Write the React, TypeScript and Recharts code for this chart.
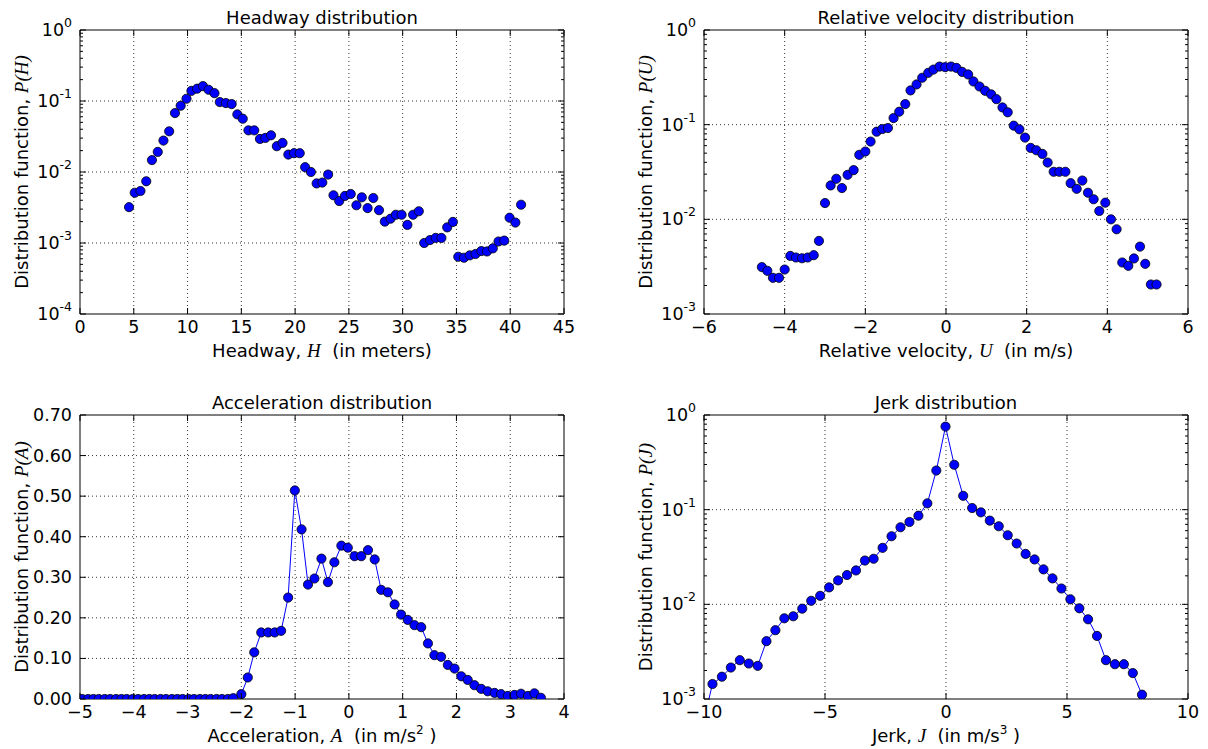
import React from 'react';
import { ScatterChart, Scatter, LineChart, Line, XAxis, YAxis, ReferenceLine, ReferenceArea } from 'recharts';

// ---------- data ----------
const headwayH = [4.56,5.09,5.62,6.16,6.69,7.23,7.76,8.29,8.83,9.36,9.9,10.36,10.89,11.43,11.96,12.5,13.0,13.56,14.1,14.63,15.13,15.66,16.2,16.73,17.23,17.76,18.3,18.83,19.37,19.9,20.43,20.93,21.47,22.0,22.53,23.07,23.57,24.1,24.63,25.17,25.7,26.2,26.74,27.27,27.8,28.34,28.87,29.37,29.9,30.44,30.97,31.5,32.0,32.54,33.07,33.6,34.14,34.67,35.17,35.7,36.24,36.77,37.31,37.84,38.38,38.91,39.44,39.94,40.48,41.01];
const headwayP = [0.0032,0.0051,0.0054,0.0074,0.0147,0.0192,0.0277,0.0374,0.0676,0.0857,0.1076,0.139,0.149,0.162,0.144,0.129,0.0966,0.0935,0.0905,0.0648,0.0563,0.0386,0.0386,0.0292,0.0302,0.0329,0.0231,0.0257,0.0176,0.0184,0.0184,0.0117,0.0100,0.0069,0.0071,0.0092,0.0047,0.0039,0.0046,0.0049,0.0034,0.0044,0.0031,0.0043,0.0029,0.0020,0.0022,0.0025,0.0025,0.0018,0.0025,0.0028,0.0010,0.0011,0.00118,0.00118,0.00166,0.00198,0.00064,0.00062,0.00067,0.00070,0.00077,0.00076,0.00084,0.00105,0.00108,0.00227,0.00194,0.00346];

const velocityU = [-4.565,-4.43,-4.29,-4.14,-4.0,-3.86,-3.72,-3.57,-3.43,-3.28,-3.15,-3.0,-2.86,-2.72,-2.58,-2.44,-2.29,-2.15,-2.0,-1.87,-1.72,-1.58,-1.44,-1.30,-1.16,-1.01,-0.88,-0.73,-0.59,-0.44,-0.31,-0.16,-0.02,0.125,0.26,0.40,0.55,0.68,0.83,0.97,1.12,1.25,1.40,1.53,1.68,1.82,1.96,2.10,2.24,2.39,2.52,2.67,2.81,2.96,3.09,3.24,3.38,3.52,3.66,3.80,3.95,4.09,4.23,4.37,4.52,4.66,4.81,4.94,5.08,5.22];
const velocityP = [0.00313,0.00286,0.00241,0.00241,0.00295,0.00411,0.00395,0.00388,0.00395,0.00418,0.00592,0.01486,0.0228,0.0268,0.0214,0.0295,0.0331,0.0480,0.0520,0.0663,0.0843,0.0900,0.0922,0.1175,0.137,0.165,0.230,0.266,0.313,0.353,0.382,0.411,0.405,0.411,0.398,0.361,0.339,0.286,0.253,0.228,0.209,0.186,0.152,0.135,0.0976,0.0893,0.0730,0.0568,0.0537,0.0491,0.0398,0.0318,0.0318,0.0318,0.0241,0.0210,0.0257,0.0191,0.0163,0.01225,0.0150,0.0100,0.00785,0.0035,0.00323,0.00386,0.00515,0.00339,0.00205,0.00205];

const accelA = [-4.96,-4.85,-4.75,-4.65,-4.54,-4.44,-4.33,-4.23,-4.13,-4.02,-3.92,-3.81,-3.71,-3.61,-3.50,-3.40,-3.29,-3.19,-3.09,-2.98,-2.88,-2.77,-2.67,-2.57,-2.46,-2.36,-2.25,-2.15,-2.00,-1.88,-1.76,-1.63,-1.50,-1.38,-1.26,-1.13,-1.005,-0.88,-0.76,-0.64,-0.51,-0.39,-0.27,-0.14,-0.02,0.105,0.23,0.355,0.48,0.60,0.725,0.85,0.97,1.095,1.22,1.345,1.47,1.59,1.715,1.84,1.965,2.09,2.21,2.335,2.46,2.58,2.71,2.83,2.955,3.08,3.20,3.33,3.45,3.57];
const accelP = [0,0,0,0,0,0,0,0,0,0,0,0,0,0,0,0,0,0,0,0,0,0,0,0,0,0,0,0.002,0.012,0.053,0.115,0.164,0.164,0.164,0.168,0.250,0.514,0.418,0.282,0.297,0.346,0.288,0.337,0.378,0.373,0.352,0.352,0.367,0.344,0.269,0.263,0.233,0.208,0.195,0.182,0.177,0.137,0.108,0.104,0.084,0.075,0.056,0.047,0.034,0.025,0.019,0.015,0.012,0.0075,0.010,0.013,0.0075,0.014,0.003];

const jerkJ = [-10.03,-9.65,-9.26,-8.89,-8.52,-8.15,-7.78,-7.42,-7.05,-6.68,-6.31,-5.94,-5.57,-5.20,-4.83,-4.46,-4.09,-3.72,-3.35,-2.99,-2.62,-2.25,-1.88,-1.51,-1.14,-0.77,-0.40,-0.02,0.34,0.71,1.08,1.44,1.81,2.18,2.55,2.92,3.29,3.66,4.03,4.40,4.77,5.14,5.51,5.87,6.24,6.61,6.98,7.35,7.72,8.10];
const jerkP = [0.00056,0.00144,0.00172,0.00215,0.00257,0.00237,0.00224,0.00408,0.00533,0.00712,0.00748,0.00900,0.0109,0.0123,0.0151,0.0179,0.0204,0.0228,0.0290,0.0303,0.0395,0.0524,0.0652,0.0741,0.0864,0.1166,0.259,0.754,0.298,0.140,0.104,0.0937,0.0766,0.0668,0.0537,0.0439,0.0341,0.0298,0.0234,0.0188,0.0147,0.0113,0.00908,0.00695,0.00464,0.00257,0.00233,0.00233,0.00188,0.00111];

const headwayTicks = [0, 5, 10, 15, 20, 25, 30, 35, 40, 45];
const velocityTicks = [-6, -4, -2, 0, 2, 4, 6];
const accelTicks = [-5, -4, -3, -2, -1, 0, 1, 2, 3, 4];
const accelYTicks = [0, 0.1, 0.2, 0.3, 0.4, 0.5, 0.6, 0.7];
const jerkTicks = [-10, -5, 0, 5, 10];

const zip = (xs: number[], ys: number[]) => xs.map((x, i) => ({ x, y: ys[i] }));

// ---------- layout ----------
const PL = 80, PT = 30, PW = 484, PH = 284;
const CW = PL + PW + 20, CH = PT + PH + 60;
const FONT = 'DejaVu Sans';
const FS = 17.5;
const MATH = 'Liberation Serif';

const logTicks = (minExp: number, maxExp: number) => {
  const out: number[] = [];
  for (let e = minExp; e <= maxExp; e++) {
    const base = Math.pow(10, e);
    out.push(base);
    if (e < maxExp) for (let m = 2; m <= 9; m++) out.push(m * base);
  }
  return out;
};
const isDecade = (v: number) => Math.abs(Math.log10(v) - Math.round(Math.log10(v))) < 1e-9;

const fmtX = (v: number) => (v < 0 ? '\u2212' + Math.abs(v) : String(v));

const XTick = (props: any) => {
  const { x, payload } = props;
  return (
    <g>
      <line x1={x} x2={x} y1={PT + PH} y2={PT + PH - 6} stroke="#000" strokeWidth={1} />
      <line x1={x} x2={x} y1={PT} y2={PT + 6} stroke="#000" strokeWidth={1} />
      <text x={x} y={PT + PH + 19} textAnchor="middle" fontFamily={FONT} fontSize={FS} fill="#000">{fmtX(payload.value)}</text>
    </g>
  );
};

const LogYTick = (props: any) => {
  const { y, payload } = props;
  const v = payload.value;
  const major = isDecade(v);
  const len = major ? 6 : 3;
  const e = Math.round(Math.log10(v));
  return (
    <g>
      <line x1={PL} x2={PL + len} y1={y} y2={y} stroke="#000" strokeWidth={1} />
      <line x1={PL + PW - len} x2={PL + PW} y1={y} y2={y} stroke="#000" strokeWidth={1} />
      {major && (
        <text x={PL - 8} y={y + 6} textAnchor="end" fontFamily={FONT} fontSize={FS} fill="#000">
          10<tspan dy={-9} fontSize={12.5}>{String(e)}</tspan>
        </text>
      )}
    </g>
  );
};

const LinYTick = (props: any) => {
  const { y, payload } = props;
  return (
    <g>
      <line x1={PL} x2={PL + 6} y1={y} y2={y} stroke="#000" strokeWidth={1} />
      <line x1={PL + PW - 6} x2={PL + PW} y1={y} y2={y} stroke="#000" strokeWidth={1} />
      <text x={PL - 8} y={y + 6} textAnchor="end" fontFamily={FONT} fontSize={FS} fill="#000">{payload.value.toFixed(2)}</text>
    </g>
  );
};

const Dot = (props: any) => {
  const { cx, cy } = props;
  if (cx == null || cy == null) return <g />;
  return <circle cx={cx} cy={cy} r={4.6} fill="#0000ff" stroke="#000" strokeWidth={0.8} />;
};

type TextsProps = { title: string; xPre: string; xVar: string; xPost: React.ReactNode; yVar: string };

const xLabelContent = (t: TextsProps) => () => (
  <g>
    <text x={PL + PW / 2} y={18} dy={6} textAnchor="middle" fontFamily={FONT} fontSize={18} fill="#000">{t.title}</text>
    <text x={PL + PW / 2} y={PT + PH + 43} textAnchor="middle" fontFamily={FONT} fontSize={18} fill="#000">
      {t.xPre}<tspan fontFamily={MATH} fontStyle="italic" fontSize={19}>{t.xVar}</tspan>{t.xPost}
    </text>
  </g>
);

const yLabelContent = (t: TextsProps) => () => (
  <text x={21} y={PT + PH / 2} textAnchor="middle" dominantBaseline="central" transform={`rotate(-90 21 ${PT + PH / 2})`} fontFamily={FONT} fontSize={18} fill="#000">
    Distribution function, <tspan fontFamily={MATH} fontStyle="italic" fontSize={19}>{`P(${t.yVar})`}</tspan>
  </text>
);

const gridStyle = { stroke: '#000', strokeWidth: 0.8, strokeDasharray: '1 3' };

type PanelProps = {
  left: number; top: number; kind: 'scatter' | 'line';
  data: { x: number; y: number }[];
  xDomain: [number, number]; xTicks: number[];
  yDomain: [number, number]; yTicks: number[]; yGrid: number[]; log: boolean;
  texts: TextsProps;
};

const Panel = (p: PanelProps) => {
  const common = (
    <>
      <XAxis type="number" dataKey="x" domain={p.xDomain} ticks={p.xTicks} interval={0} allowDataOverflow height={60}
        axisLine={false} tickLine={false} tick={XTick} label={{ content: xLabelContent(p.texts) } as any} />
      <YAxis type="number" dataKey="y" domain={p.yDomain} ticks={p.yTicks} interval={0} allowDataOverflow width={PL}
        scale={p.log ? 'log' : 'linear'} axisLine={false} tickLine={false} tick={p.log ? LogYTick : LinYTick}
        label={{ content: yLabelContent(p.texts) } as any} />
      {p.xTicks.filter((v) => v !== p.xDomain[0] && v !== p.xDomain[1]).map((v) => (
        <ReferenceLine key={'gx' + v} x={v} {...gridStyle} />
      ))}
      {p.yGrid.filter((v) => v !== p.yDomain[0] && v !== p.yDomain[1]).map((v) => (
        <ReferenceLine key={'gy' + v} y={v} {...gridStyle} />
      ))}
      <ReferenceArea x1={p.xDomain[0]} x2={p.xDomain[1]} y1={p.yDomain[0]} y2={p.yDomain[1]} fill="none" fillOpacity={0} stroke="#000" strokeWidth={1} />
    </>
  );
  const margin = { top: PT, right: 20, bottom: 0, left: 0 };
  return (
    <div style={{ position: 'absolute', left: p.left - PL, top: p.top - PT, width: CW, height: CH }}>
      {p.kind === 'scatter' ? (
        <ScatterChart width={CW} height={CH} margin={margin}>
          {common}
          <Scatter data={p.data} shape={Dot} isAnimationActive={false} />
        </ScatterChart>
      ) : (
        <LineChart width={CW} height={CH} margin={margin} data={p.data}>
          {common}
          <Line type="linear" dataKey="y" stroke="#0000ff" strokeWidth={1} dot={Dot} activeDot={false} isAnimationActive={false} />
        </LineChart>
      )}
    </div>
  );
};

export default function App() {
  const log4 = logTicks(-4, 0);
  const log3 = logTicks(-3, 0);
  return (
    <div style={{ position: 'absolute', left: 0, top: 0, width: 1208, height: 749, background: '#fff', overflow: 'hidden' }}>
      <Panel left={80} top={30} kind="scatter" data={zip(headwayH, headwayP)} xDomain={[0, 45]} xTicks={headwayTicks}
        yDomain={[1e-4, 1]} yTicks={log4} yGrid={[1e-3, 1e-2, 1e-1]} log
        texts={{ title: 'Headway distribution', xPre: 'Headway, ', xVar: 'H', xPost: '\u00a0\u00a0(in meters)', yVar: 'H' }} />
      <Panel left={704} top={30} kind="scatter" data={zip(velocityU, velocityP)} xDomain={[-6, 6]} xTicks={velocityTicks}
        yDomain={[1e-3, 1]} yTicks={log3} yGrid={[1e-2, 1e-1]} log
        texts={{ title: 'Relative velocity distribution', xPre: 'Relative velocity, ', xVar: 'U', xPost: '\u00a0\u00a0(in m/s)', yVar: 'U' }} />
      <Panel left={80} top={415} kind="line" data={zip(accelA, accelP)} xDomain={[-5, 4]} xTicks={accelTicks}
        yDomain={[0, 0.7]} yTicks={accelYTicks} yGrid={accelYTicks} log={false}
        texts={{ title: 'Acceleration distribution', xPre: 'Acceleration, ', xVar: 'A',
          xPost: <>{'\u00a0\u00a0(in m/s'}<tspan dy={-8} fontSize={12}>2</tspan><tspan dy={8}>{'\u00a0)'}</tspan></>, yVar: 'A' }} />
      <Panel left={704} top={415} kind="line" data={zip(jerkJ, jerkP)} xDomain={[-10, 10]} xTicks={jerkTicks}
        yDomain={[1e-3, 1]} yTicks={log3} yGrid={[1e-2, 1e-1]} log
        texts={{ title: 'Jerk distribution', xPre: 'Jerk, ', xVar: 'J',
          xPost: <>{'\u00a0\u00a0(in m/s'}<tspan dy={-8} fontSize={12}>3</tspan><tspan dy={8}>{'\u00a0)'}</tspan></>, yVar: 'J' }} />
    </div>
  );
}
